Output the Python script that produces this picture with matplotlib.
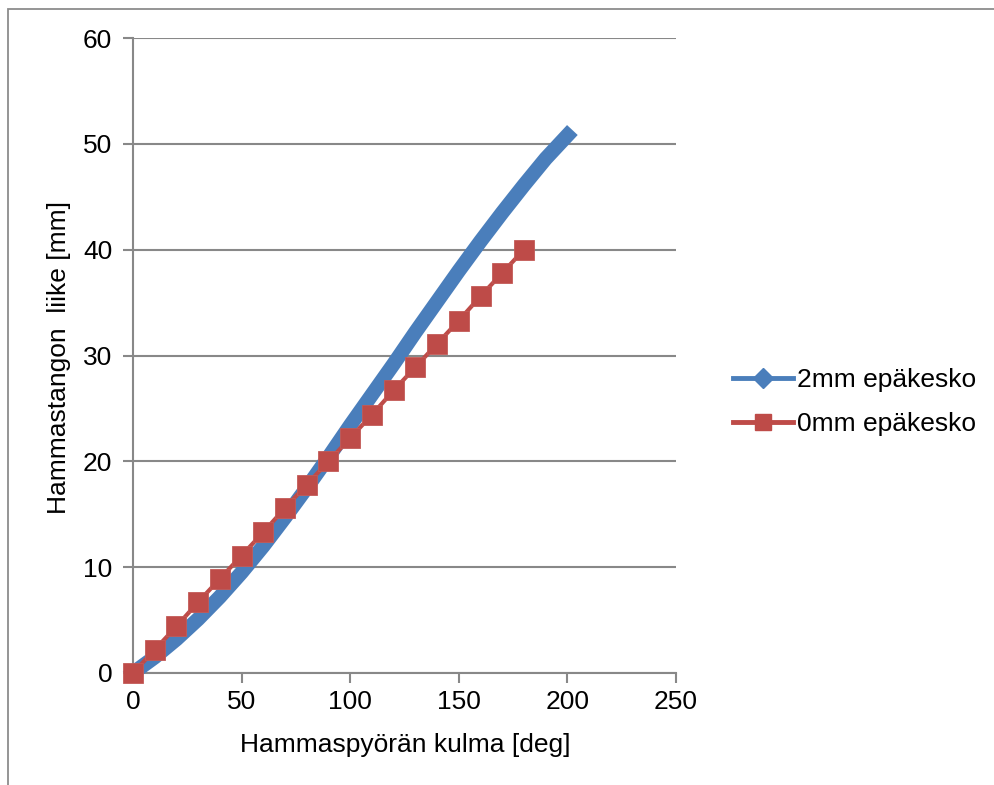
import matplotlib
matplotlib.use("Agg")
import matplotlib.pyplot as plt
from matplotlib.lines import Line2D
from matplotlib.patches import Rectangle

# ---- data ----
angle_2mm = [0, 10, 20, 30, 40, 50, 60, 70, 80, 90, 100,
             110, 120, 130, 140, 150, 160, 170, 180, 190, 200]
disp_2mm = [0, 1.5, 3.2, 5.1, 7.2, 9.5, 12.0, 14.7, 17.5, 20.4, 23.4,
            26.3, 29.2, 32.2, 35.1, 38.0, 40.8, 43.5, 46.1, 48.6, 50.8]

angle_0mm = [0, 10, 20, 30, 40, 50, 60, 70, 80, 90,
             100, 110, 120, 130, 140, 150, 160, 170, 180]
disp_0mm = [0, 2.2, 4.4, 6.7, 8.9, 11.1, 13.3, 15.6, 17.8, 20.0,
            22.2, 24.4, 26.7, 28.9, 31.1, 33.3, 35.6, 37.8, 40.0]

series_names = ["2mm epäkesko", "0mm epäkesko"]
x_ticks = [0, 50, 100, 150, 200, 250]
y_ticks = [0, 10, 20, 30, 40, 50, 60]
x_label = "Hammaspyörän kulma [deg]"
y_label = "Hammastangon  liike [mm]"

BLUE = "#4A7EBB"
RED = "#BE4B48"
GRID = "#888888"
FS = 19

plt.rcParams["font.family"] = ["Liberation Sans", "DejaVu Sans"]

W, H = 994, 785
fig = plt.figure(figsize=(W / 100, H / 100), dpi=100)
fig.patch.set_facecolor("white")

# outer chart border (only left/top visible in crop)
fig.patches.append(Rectangle((8 / W, -0.05), 1.2, (H - 9) / H + 0.05,
                             transform=fig.transFigure, fill=False,
                             edgecolor="#8c8c8c", linewidth=1.3))

ax = fig.add_axes([133 / W, 1 - 673 / H, (676 - 133) / W, (673 - 38) / H])

ax.plot(angle_2mm, disp_2mm, color=BLUE, linewidth=10.5,
        solid_joinstyle="round", solid_capstyle="projecting", zorder=3,
        clip_on=False)
ax.plot(angle_0mm, disp_0mm, color=RED, linewidth=3,
        marker="s", markersize=14.5, markerfacecolor=RED,
        markeredgecolor="#C35A57", markeredgewidth=0.6, zorder=4,
        clip_on=False)

ax.set_xlim(0, 250)
ax.set_ylim(0, 60)
ax.set_xticks(x_ticks)
ax.set_yticks(y_ticks)
ax.set_xticklabels([str(v) for v in x_ticks], fontsize=FS)
ax.set_yticklabels([str(v) for v in y_ticks], fontsize=FS)

ax.yaxis.grid(True, color=GRID, linewidth=1.5)
ax.set_axisbelow(True)
for s in ["top", "right"]:
    ax.spines[s].set_visible(False)
for s in ["left", "bottom"]:
    ax.spines[s].set_color(GRID)
    ax.spines[s].set_linewidth(1.5)
ax.tick_params(axis="both", direction="out", length=7, width=1.5,
               color=GRID, labelcolor="black")
ax.tick_params(axis="x", pad=5)
ax.tick_params(axis="y", pad=8)

fig.text(405 / W, 1 - 745 / H, x_label, fontsize=FS, ha="center", va="center")
fig.text(59 / W, 1 - 357 / H, y_label, fontsize=FS, ha="center", va="center",
         rotation=90)

handles = [
    Line2D([], [], color=BLUE, linewidth=3.5, marker="D", markersize=10,
           markerfacecolor=BLUE, markeredgecolor=BLUE),
    Line2D([], [], color=RED, linewidth=3.5, marker="s", markersize=12,
           markerfacecolor=RED, markeredgecolor=RED),
]
fig.legend(handles, series_names, loc="center left",
           bbox_to_anchor=(722 / W, 1 - 402 / H), frameon=False,
           fontsize=FS, handlelength=2.3, handletextpad=0.15,
           labelspacing=0.75, borderaxespad=0)

fig.savefig("out.png", dpi=100, facecolor="white")
